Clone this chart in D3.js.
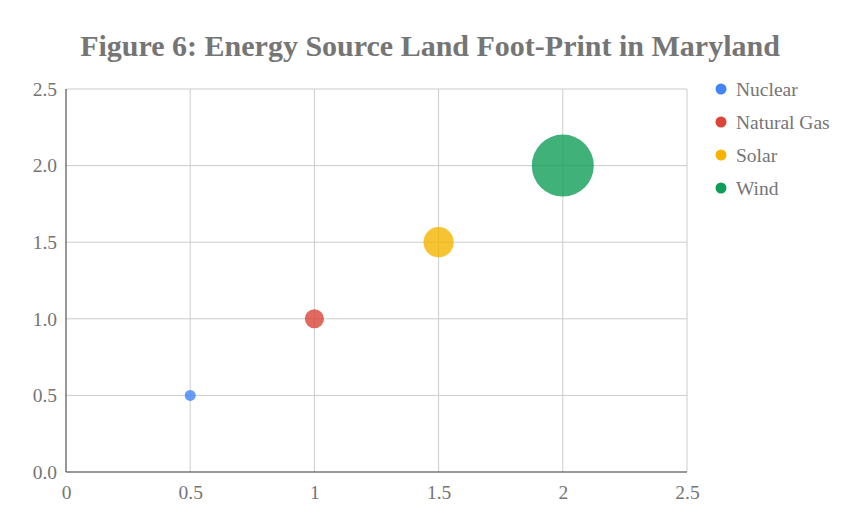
<!DOCTYPE html>
<html><head><meta charset="utf-8">
<script src="https://cdn.jsdelivr.net/npm/d3@7"></script>
<style>body{margin:0;background:#fff}svg{display:block}</style>
</head><body>
<script>
const categories = ["Nuclear", "Natural Gas", "Solar", "Wind"];
const xValues = [0.5, 1.0, 1.5, 2.0];
const yValues = [0.5, 1.0, 1.5, 2.0];
const sizeValues = [1, 12, 27, 70];
const colors = ["#4285F4", "#DB4437", "#F4B400", "#0F9D58"];
const xTicks = [0, 0.5, 1, 1.5, 2, 2.5];
const yTicks = [0, 0.5, 1, 1.5, 2, 2.5];
const title = "Figure 6: Energy Source Land Foot-Print in Maryland";

const W = 860, H = 532;
const m = {left: 66, right: 173, top: 89, bottom: 60};
const svg = d3.select("body").append("svg").attr("width", W).attr("height", H);
const font = "'Liberation Serif', 'Times New Roman', serif";

const x = d3.scaleLinear().domain([0, 2.5]).range([m.left, W - m.right]);
const y = d3.scaleLinear().domain([0, 2.5]).range([H - m.bottom, m.top]);
const r = d3.scaleLinear().domain(d3.extent(sizeValues)).range([5.5, 31]);

svg.append("text").attr("x", 430).attr("y", 56).attr("text-anchor", "middle")
  .attr("font-family", font).attr("font-weight", "bold").attr("font-size", 30)
  .attr("fill", "#757575").text(title);

// grid
svg.append("g").selectAll("line").data(xTicks.filter(d => d > 0)).join("line")
  .attr("x1", d => x(d)).attr("x2", d => x(d)).attr("y1", y(0)).attr("y2", y(2.5))
  .attr("stroke", "#cccccc").attr("stroke-width", 1);
svg.append("g").selectAll("line").data(yTicks.filter(d => d > 0)).join("line")
  .attr("y1", d => y(d)).attr("y2", d => y(d)).attr("x1", x(0)).attr("x2", x(2.5))
  .attr("stroke", "#cccccc").attr("stroke-width", 1);

// axes
const xAxis = svg.append("g").attr("transform", `translate(0,${y(0)})`)
  .call(d3.axisBottom(x).tickValues(xTicks).tickSize(0).tickPadding(13).tickFormat(d => String(d)));
xAxis.select(".domain").remove();
const yAxis = svg.append("g").attr("transform", `translate(${x(0)},0)`)
  .call(d3.axisLeft(y).tickValues(yTicks).tickSize(0).tickPadding(9).tickFormat(d3.format(".1f")));
yAxis.select(".domain").remove();
svg.selectAll(".tick text").attr("font-family", font).attr("font-size", 19.5).attr("fill", "#757575");

svg.append("line").attr("x1", x(0)).attr("x2", x(0)).attr("y1", y(0)).attr("y2", y(2.5))
  .attr("stroke", "#333").attr("stroke-width", 1);
svg.append("line").attr("x1", x(0)).attr("x2", x(2.5)).attr("y1", y(0)).attr("y2", y(0))
  .attr("stroke", "#333").attr("stroke-width", 1);

// bubbles
const data = categories.map((c, i) => ({c, x: xValues[i], y: yValues[i], s: sizeValues[i], col: colors[i]}));
svg.append("g").selectAll("circle").data(data).join("circle")
  .attr("cx", d => x(d.x)).attr("cy", d => y(d.y)).attr("r", d => r(d.s))
  .attr("fill", d => d.col).attr("fill-opacity", 0.8);

// legend
const lg = svg.append("g").selectAll("g").data(data).join("g")
  .attr("transform", (d, i) => `translate(721,${89 + i * 33})`);
lg.append("circle").attr("r", 5.5).attr("fill", d => d.col);
lg.append("text").attr("x", 15).attr("dy", "0.35em").attr("font-family", font)
  .attr("font-size", 19.5).attr("fill", "#757575").text(d => d.c);
</script>
</body></html>
